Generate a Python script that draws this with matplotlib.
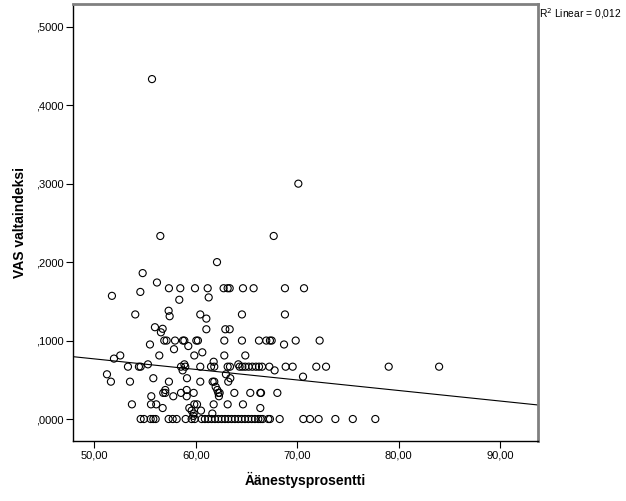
import matplotlib
matplotlib.use('Agg')
import matplotlib.pyplot as plt
import numpy as np

plt.rcParams['font.family'] = ['Liberation Sans', 'DejaVu Sans']

# turnout (%) and VAS index
turnout = [
    55.69,
    70.12,
    56.51, 67.69,
    62.10,
    54.77,
    56.18,
    57.36, 58.48, 59.93, 61.18, 62.75, 63.15, 63.35, 64.66, 65.71, 68.80, 70.68,
    54.54,
    51.74,
    61.28,
    58.38,
    57.33,
    54.04, 60.45, 64.56, 68.80,
    57.43,
    61.05,
    55.98,
    56.74,
    61.05, 62.92, 63.35,
    56.57,
    56.90, 57.13, 57.96, 58.74, 58.88, 60.06, 60.22, 62.82, 64.56, 66.24, 66.96, 67.32, 67.49, 69.86, 72.22,
    55.49, 68.71,
    59.27,
    57.86,
    60.65,
    52.56, 56.41, 59.86, 62.82, 64.89,
    51.94,
    61.77,
    55.29, 58.88, 64.20,
    53.32, 54.40, 54.57, 58.55, 58.97, 60.45, 61.51, 61.83, 63.15, 63.38, 64.33, 64.60, 64.89,
    65.22, 65.58, 65.94, 66.24, 66.54, 67.26, 68.87, 69.56, 71.89, 72.85, 79.03, 84.00,
    58.71, 67.78,
    51.25, 62.98,
    70.58,
    55.82, 59.14, 63.41,
    51.64, 53.52, 57.36, 60.45, 61.67, 61.83, 63.21,
    61.97,
    57.00, 59.11, 62.13,
    56.80, 57.00, 58.55, 59.80, 62.23, 62.36, 63.81, 65.38, 66.37, 66.44, 68.05,
    55.62, 57.79, 59.11, 62.29,
    53.71, 55.59, 56.11, 59.86, 60.13, 61.77, 63.15, 64.66,
    56.74, 59.37, 66.37,
    59.60, 60.52,
    61.64, 59.80,
    59.76,
    54.57, 54.90, 55.56, 55.82, 56.05, 57.33, 57.73, 58.12, 59.01, 59.60, 59.90, 60.59, 60.91,
    61.24, 61.57, 61.90, 62.23, 62.56, 62.89, 63.21, 63.54, 63.87, 64.20, 64.53, 64.86, 65.19,
    65.52, 65.84, 66.17, 66.40, 66.60, 67.16, 67.32, 68.28, 70.61, 71.27, 72.12, 73.77, 75.49, 77.71,
]
vas = (
    [0.4333]
    + [0.3]
    + [0.2333] * 2
    + [0.2]
    + [0.186]
    + [0.174]
    + [0.1667] * 11
    + [0.162]
    + [0.157]
    + [0.155]
    + [0.152]
    + [0.138]
    + [0.1333] * 4
    + [0.131]
    + [0.128]
    + [0.117]
    + [0.115]
    + [0.1144] * 3
    + [0.1105]
    + [0.1] * 15
    + [0.095] * 2
    + [0.093]
    + [0.089]
    + [0.085]
    + [0.081] * 5
    + [0.077]
    + [0.073]
    + [0.0697] * 3
    + [0.0667] * 25
    + [0.062] * 2
    + [0.057] * 2
    + [0.054]
    + [0.052] * 3
    + [0.0476] * 7
    + [0.041]
    + [0.037] * 3
    + [0.0333] * 11
    + [0.029] * 4
    + [0.0187] * 8
    + [0.014] * 3
    + [0.0107] * 2
    + [0.007] * 2
    + [0.004]
    + [0.0] * 40
)

# linear fit shown in the chart
fit_intercept = 0.1438
fit_slope = -0.001343
r2_text = 'R$^2$ Linear = 0,012'

xticks = [50, 60, 70, 80, 90]
yticks = [0.0, 0.1, 0.2, 0.3, 0.4, 0.5]

fig = plt.figure(figsize=(6.26, 5.01), dpi=100)
ax = fig.add_axes([0.1166, 0.1198, 0.7428, 0.8722])

ax.scatter(turnout, vas, s=26, facecolors='none', edgecolors='black',
           linewidths=0.8, zorder=3)

xmin, xmax = 47.9, 93.75
xs = np.array([xmin, xmax])
ax.plot(xs, fit_intercept + fit_slope * xs, color='black', lw=0.8, zorder=2)

ax.set_xlim(xmin, xmax)
ax.set_ylim(-0.028, 0.529)

ax.set_xticks(xticks)
ax.set_xticklabels([('%.2f' % v).replace('.', ',') for v in xticks])
ax.set_yticks(yticks)
ax.set_yticklabels([('%.4f' % v)[1:].replace('.', ',') for v in yticks])
ax.tick_params(direction='out', length=5, width=0.8, labelsize=8,
               colors='black', pad=2)

for s in ['left', 'bottom']:
    ax.spines[s].set_color('black')
    ax.spines[s].set_linewidth(1.0)
for s in ['top', 'right']:
    ax.spines[s].set_color('#808080')
    ax.spines[s].set_linewidth(2.0)

ax.set_xlabel('Äänestysprosentti', fontsize=10, fontweight='bold', labelpad=8)
ax.set_ylabel('VAS valtaindeksi', fontsize=10, fontweight='bold', labelpad=6)

fig.text(539 / 626, 1 - 14 / 501, r2_text, fontsize=7.4, ha='left', va='center')

plt.savefig('out.png', dpi=100)
